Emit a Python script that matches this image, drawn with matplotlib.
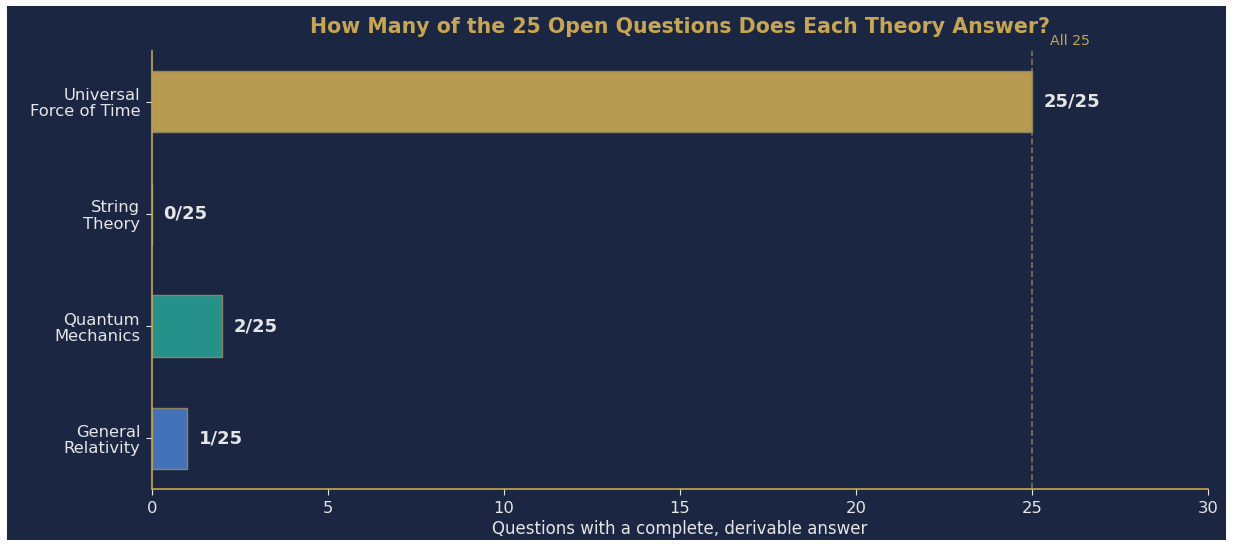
import matplotlib
matplotlib.use("Agg")
import matplotlib.pyplot as plt
from matplotlib.patches import Rectangle

plt.rcParams['font.family'] = ['DejaVu Sans']

categories = ["General\nRelativity", "Quantum\nMechanics", "String\nTheory", "Universal\nForce of Time"]
values = [1, 2, 0, 25]
total = 25
bar_colors = ["#4472b8", "#26918a", "#b8a060", "#b59a4f"]
xticks = [0, 5, 10, 15, 20, 25, 30]

BG = "#1a2642"
GOLD = "#c8a550"
TXT = "#e6e6e6"

fig = plt.figure(figsize=(12.33, 5.46), dpi=100, facecolor="white")
fig.patches.append(Rectangle((7/1233, 6/546), (1226-7)/1233, (540-6)/546,
                             transform=fig.transFigure, facecolor=BG, edgecolor="none", zorder=-10))
ax = fig.add_axes([152/1233, 1-489/546, (1208-152)/1233, (489-51)/546])
ax.set_facecolor(BG)

y = list(range(len(categories)))
ax.barh(y, values, height=0.55, color=bar_colors, edgecolor="#8a8560", linewidth=1, zorder=2)
for yi, v in zip(y, values):
    ax.text(v + 0.32, yi, f"{v}/{total}", va="center", ha="left", color=TXT,
            fontsize=13, fontweight="bold")

ax.axvline(total, color=GOLD, linestyle="--", linewidth=1.2, alpha=0.6, zorder=1)
ax.text(total + 0.5, 3.48, "All 25", color=GOLD, fontsize=10.2, ha="left", va="bottom",
        transform=ax.transData)

ax.set_xlim(0, 30)
ax.set_ylim(-0.45, 3.45)
ax.set_yticks(y)
ax.set_yticklabels(categories, color=TXT, fontsize=11.8, linespacing=1.12)
ax.set_xticks(xticks)
ax.set_xticklabels([str(t) for t in xticks], color=TXT, fontsize=11.8)
ax.tick_params(colors=TXT, length=4.5, pad=4)
for s in ["top", "right"]:
    ax.spines[s].set_visible(False)
for s in ["left", "bottom"]:
    ax.spines[s].set_color(GOLD)
    ax.spines[s].set_linewidth(1.2)
ax.set_xlabel("Questions with a complete, derivable answer", color=TXT, fontsize=12, labelpad=3)
fig.text(680/1233, 1-27/546, "How Many of the 25 Open Questions Does Each Theory Answer?",
         color=GOLD, fontsize=14.8, fontweight="bold", ha="center", va="center")

fig.savefig("out.png", dpi=100, facecolor="white")
